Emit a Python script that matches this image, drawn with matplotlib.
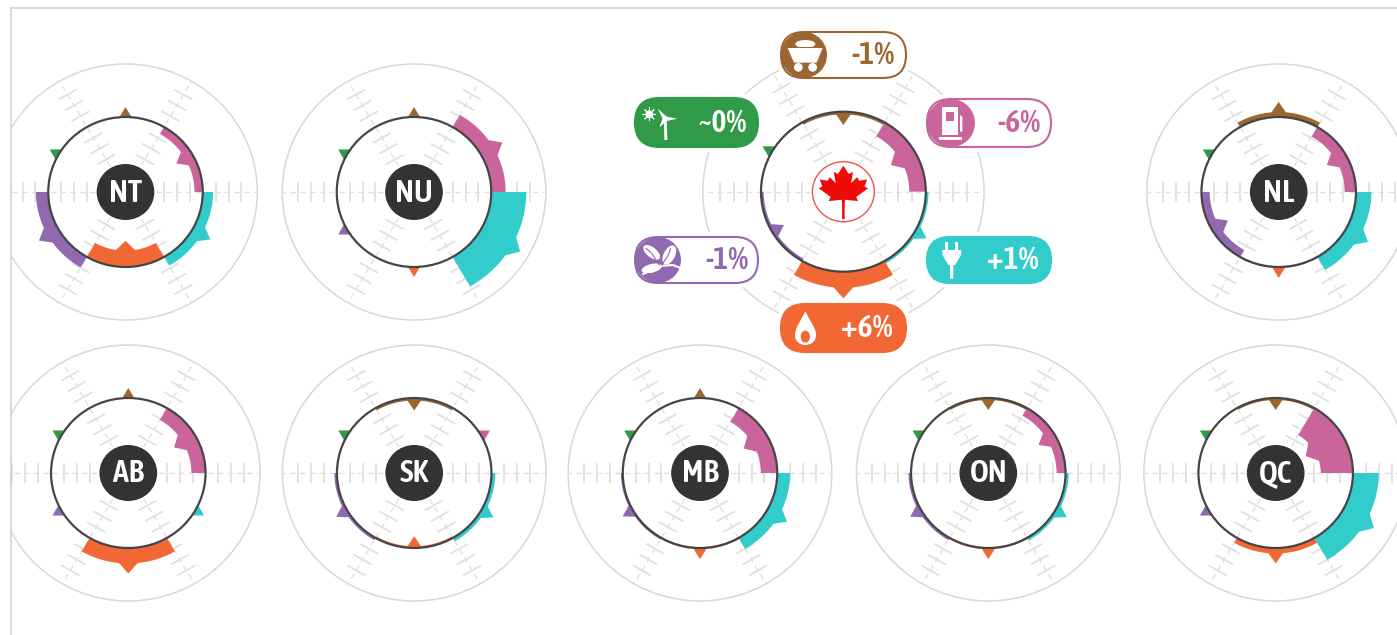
import numpy as np
import matplotlib
matplotlib.use("Agg")
import matplotlib.pyplot as plt
from matplotlib.patches import Polygon, Ellipse, FancyBboxPatch, PathPatch
from matplotlib.path import Path

# ---------- data ----------
regions = ["NT", "NU", "NL", "AB", "SK", "MB", "ON", "QC", "CA"]
petroleum   = [-3.2,  5.6, -4.4, -5.5,  0.0, -6.4, -3.5, -12.5, -6.0]
electricity = [ 4.0, 13.6,  6.0,  0.0,  1.5,  5.0,  1.2,  10.0,  1.0]
natural_gas = [-6.5,  0.0,  0.4,  6.2, -0.7,  0.5,  0.5,   2.2,  6.0]
biomass     = [ 4.8,  0.0, -3.2,  0.0,  1.0,  0.7,  1.0,   0.0, -1.0]
renewables  = [ 0.0,  0.0,  0.0,  0.0,  0.0,  0.0,  0.0,   0.0,  0.0]
coal        = [ 0.0,  0.0,  2.0,  0.0, -1.0,  0.0, -0.8,  -0.8, -1.0]
pill_labels = ["-6%", "+1%", "+6%", "-1%", "~0%", "-1%"]

# ---------- layout ----------
W, H = 1397, 635
centres = dict(NT=(125.5, 192), NU=(414, 192), NL=(1278.7, 192), AB=(128.3, 473),
               SK=(414.2, 473), MB=(700, 473), ON=(988.3, 473), QC=(1275.7, 473),
               CA=(843.4, 191.7))
XS = 1.03
R0, ROUT, RC = 75.0, 128.0, 28.0
K = 2.5
TICK = 12.5
PINK, TEAL, ORANGE, PURPLE, GREEN, BROWN = "#C9659B", "#33CCCC", "#F26835", "#9169B1", "#2F9A47", "#9C6631"
sector_colors = [PINK, TEAL, ORANGE, PURPLE, GREEN, BROWN]
sector_from = [0, -60, -120, -180, 120, 60]
GRID = "#d8d8d8"
TICKC = "#e0e0e0"
plt.rcParams["font.family"] = ["Asap Condensed", "Open Sans", "DejaVu Sans"]

fig = plt.figure(figsize=(W / 100, H / 100), dpi=100, facecolor="white")
ax = fig.add_axes([11 / W, 0, (W - 11) / W, (H - 8) / H])
ax.set_xlim(11, W)
ax.set_ylim(H, 8)
ax.set_xticks([])
ax.set_yticks([])
for s_ in ("right", "bottom"):
    ax.spines[s_].set_visible(False)
for s_ in ("left", "top"):
    ax.spines[s_].set_color("#cfcfcf")
    ax.spines[s_].set_linewidth(1.1)


def pol(c, r, deg):
    a = np.deg2rad(deg)
    return c[0] + XS * r * np.cos(a), c[1] - r * np.sin(a)


def draw_grid(c, s):
    ax.add_patch(Ellipse(c, 2 * XS * ROUT * s, 2 * ROUT * s, fc="none", ec=GRID, lw=1.1, zorder=1))
    for deg in range(0, 360, 60):
        x0, y0 = pol(c, 30 * s, deg)
        x1, y1 = pol(c, ROUT * s, deg)
        ax.plot([x0, x1], [y0, y1], color=TICKC, lw=1.0, dashes=(4, 3), zorder=2)
        a = np.deg2rad(deg)
        for i in (-3, -2, -1, 1, 2, 3):
            r = (R0 + i * TICK) * s
            px, py = pol(c, r, deg)
            dx, dy = 10 * np.sin(a), 10 * np.cos(a)
            ax.plot([px - XS * dx, px + XS * dx], [py - dy, py + dy], color=TICKC, lw=1.3, zorder=2,
                    solid_capstyle="butt")


def draw_sector(c, s, start, value, color):
    R = R0 * s
    r = R + value * K * s
    mid = start + 30
    if abs(value) > 0.01:
        th = np.linspace(start, start + 60, 60)
        out = [pol(c, r, t) for t in th]
        inn = [pol(c, R, t) for t in th[::-1]]
        ax.add_patch(Polygon(out + inn, closed=True, fc=color, ec="none", zorder=3))
    sign = 1 if value >= 0 else -1
    apex_r = r + sign * 10 * s
    half = (6 + min(abs(value) * 0.5, 4.5)) * s
    dth = np.rad2deg(half / r)
    pts = [pol(c, apex_r, mid), pol(c, r, mid + dth), pol(c, R, mid + dth),
           pol(c, R, mid - dth), pol(c, r, mid - dth)]
    ax.add_patch(Polygon(pts, closed=True, fc=color, ec="none", zorder=3))


for idx, name in enumerate(regions):
    c = centres[name]
    s = 80 / 75 if name == "CA" else 1.0
    draw_grid(c, s)
    vals = [petroleum[idx], electricity[idx], natural_gas[idx], biomass[idx], renewables[idx], coal[idx]]
    for start, v, col in zip(sector_from, vals, sector_colors):
        draw_sector(c, s, start, v, col)
    ax.add_patch(Ellipse(c, 2 * XS * R0 * s, 2 * R0 * s, fc="none", ec="#454545", lw=1.6, zorder=5))
    if name == "CA":
        continue
    ax.add_patch(Ellipse(c, 2 * XS * RC, 2 * RC, fc="#333333", ec="none", zorder=6))
    ax.text(c[0], c[1] + 1, name, color="white", fontsize=23, fontweight=600,
            ha="center", va="center", zorder=7)

# ---------- flag ----------
cc = centres["CA"]
ax.add_patch(Ellipse(cc, 62, 60, fc="white", ec="#F25050", lw=1.0, zorder=6))
half_leaf = [(0, 1.0), (0.17, 0.68), (0.30, 0.76), (0.24, 0.33), (0.43, 0.56), (0.49, 0.42), (0.74, 0.47),
             (0.66, 0.20), (0.77, 0.13), (0.40, -0.20), (0.46, -0.36), (0.05, -0.31), (0.04, -0.50), (0.04, -1.05)]
leaf = half_leaf + [(-x, y) for x, y in half_leaf[::-1][:-1]]
ax.add_patch(Polygon([(cc[0] + 32 * x, cc[1] - 26 * y) for x, y in leaf], closed=True,
                     fc="#F00A0A", ec="none", zorder=7))

# ---------- pills ----------
Z = lambda xz, yz: (620 + xz / 3, 20 + yz / 3)
pills = [  # x0, x1, y0, y1, colour, filled, label index, text x
    (927, 1051, 99, 147, PINK, False, 0, 1019),
    (927, 1051, 237, 283, TEAL, True, 1, 1013),
    (781, 906, 304, 352, ORANGE, True, 2, 867),
    (635, 758, 237, 283, PURPLE, False, 3, 727),
    (635, 758, 98, 147, GREEN, True, 4, 722),
    (781, 906, 32, 78, BROWN, False, 5, 873),
]
for x0, x1, y0, y1, col, filled, li, tx in pills:
    h = y1 - y0
    m = 5
    ax.add_patch(FancyBboxPatch((x0 - m, y0 - m), x1 - x0 + 2 * m, h + 2 * m,
                                boxstyle=f"round,pad=0,rounding_size={(h + 2 * m) / 2}",
                                fc="white", ec="none", zorder=8))
    ax.add_patch(FancyBboxPatch((x0, y0), x1 - x0, h,
                                boxstyle=f"round,pad=0,rounding_size={h / 2}",
                                fc=col if filled else "white", ec=col, lw=1.5, zorder=9))
    if not filled:
        ax.add_patch(Ellipse((x0 + h / 2, (y0 + y1) / 2), h, h, fc=col, ec="none", zorder=10))
    ax.text(tx, (y0 + y1) / 2 + 0.5, pill_labels[li], color="white" if filled else col, fontsize=23,
            fontweight=600, ha="center", va="center", zorder=11)


def poly(pts, fc="white"):
    ax.add_patch(Polygon([Z(*p) for p in pts], closed=True, fc=fc, ec="none", zorder=12))


def ell(x, y, w, h, ang=0, fc="white"):
    ax.add_patch(Ellipse(Z(x, y), w / 3, h / 3, angle=ang, fc=fc, ec="none", zorder=12))


# coal cart
poly([(503, 84), (608, 84), (590, 128), (522, 128)])
ell(556, 72, 60, 24)
poly([(503, 80), (608, 80), (608, 84), (503, 84)], BROWN)
ell(535, 142, 26, 26)
ell(578, 142, 26, 26)
# pump
poly([(965, 262), (1015, 262), (1015, 345), (965, 345)])
poly([(978, 275), (1003, 275), (1003, 302), (978, 302)], PINK)
poly([(958, 350), (1025, 350), (1025, 359), (958, 359)])
poly([(1020, 285), (1027, 290), (1027, 335), (1020, 335)])
# turbine and sun
ell(88, 283, 24, 24)
for d in range(0, 180, 45):
    a = np.deg2rad(d)
    ux, uy = 21 * np.cos(a), 21 * np.sin(a)
    vx, vy = 2 * np.sin(a), -2 * np.cos(a)
    poly([(88 - ux + vx, 283 - uy + vy), (88 + ux + vx, 283 + uy + vy),
          (88 + ux - vx, 283 + uy - vy), (88 - ux - vx, 283 - uy - vy)])
poly([(132, 300), (140, 300), (142, 360), (133, 360)])
poly([(113, 266), (140, 290), (132, 304)])
poly([(172, 296), (132, 305), (132, 288)])
poly([(118, 322), (129, 292), (140, 304)])
# leaves
ell(148, 705, 62, 34, -63)
ell(95, 697, 60, 30, 39)
ell(95, 745, 62, 26, -14)
ax.plot(*zip(Z(70, 762), Z(118, 738), Z(158, 735), Z(185, 745)), color="white", lw=1.5, zorder=12)
ax.plot(*zip(Z(125, 735), Z(145, 705), Z(152, 685)), color=PURPLE, lw=0.8, zorder=13)
ax.plot(*zip(Z(118, 735), Z(95, 700), Z(78, 685)), color=PURPLE, lw=0.8, zorder=13)
# plug
poly([(975, 665), (985, 665), (985, 692), (975, 692)])
poly([(1005, 665), (1015, 665), (1015, 692), (1005, 692)])
poly([(967, 690), (1024, 690), (1024, 704), (1005, 735), (1000, 735), (1000, 776), (990, 776), (990, 735),
      (985, 735), (967, 704)])
# flame
verts = [Z(556, 875), Z(540, 905), Z(525, 925), Z(525, 945), Z(525, 965), Z(540, 975), Z(556, 975),
         Z(572, 975), Z(588, 965), Z(588, 945), Z(588, 925), Z(572, 905), Z(556, 875)]
codes = [Path.MOVETO] + [Path.CURVE4] * 12
ax.add_patch(PathPatch(Path(verts, codes), fc="white", ec="none", zorder=12))
ell(556, 950, 28, 36, 0, ORANGE)

fig.savefig("out.png", dpi=100, facecolor="white")
